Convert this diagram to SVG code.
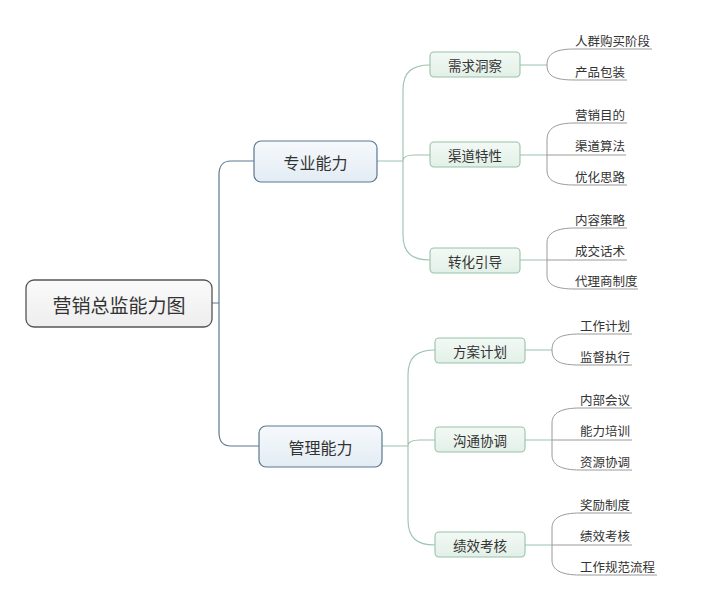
<svg xmlns="http://www.w3.org/2000/svg" width="724" height="592" viewBox="0 0 724 592">
<defs>
<linearGradient id="gRoot" x1="0" y1="0" x2="0" y2="1"><stop offset="0" stop-color="#fafafa"/><stop offset="1" stop-color="#eeeeee"/></linearGradient>
<linearGradient id="gL1" x1="0" y1="0" x2="0" y2="1"><stop offset="0" stop-color="#f6f9fc"/><stop offset="1" stop-color="#e3ecf4"/></linearGradient>
<linearGradient id="gL2" x1="0" y1="0" x2="0" y2="1"><stop offset="0" stop-color="#f3f9f5"/><stop offset="1" stop-color="#e2f0e7"/></linearGradient>
</defs>
<style>
text{font-family:"Noto Sans CJK SC","Noto Sans",sans-serif;fill:#333}
.root rect{fill:url(#gRoot);stroke:#555;stroke-width:1.3}
.l1 rect{fill:url(#gL1);stroke:#5a7890;stroke-width:1.2}
.l2 rect{fill:url(#gL2);stroke:#98c2aa;stroke-width:1.1}
.root text{font-size:19px}
.l1 text{font-size:16px}
.l2 text{font-size:13.5px}
.leaf text{font-size:12.5px}
.c1{fill:none;stroke:#5a7890;stroke-width:1.2}
.c2{fill:none;stroke:#9cc2ae;stroke-width:1.1}
.c3{fill:none;stroke:#9a9a9a;stroke-width:1}
</style>
<rect width="724" height="592" fill="#ffffff"/>
<g id="connectors">
<path class="c1" d="M212,303 H219 M219,303 V175 C219,166 222,161 231,161 H254 M219,303 V432 C219,441 222,446 231,446 H259"/>
<path class="c2" d="M377,161 H403 M403,161 V90 C403,72 412,65 430,65 M403,161 C403,157 406,155 414,155 H430 M403,161 V235 C403,253 412,260 430,260"/>
<path class="c2" d="M382,446 H408 M408,446 V375 C408,357 417,350 435,350 M408,446 C408,442 412,440 420,440 H435 M408,446 V520 C408,538 417,545 435,545"/>
<path class="c2" d="M520,65 H547 M520,155 H547 M520,260 H547 M525,350 H552 M525,440 H552 M525,545 H552"/>
<path class="c3" d="M547,65 C547,53 556,49 575,49 H652 M547,65 C547,77 556,80 575,80 H627"/>
<path class="c3" d="M547,155 V140 C547,128 556,123 575,123 H627 M547,155 H626 M547,155 V170 C547,181 556,185 575,185 H627"/>
<path class="c3" d="M547,260 V243 C547,233 556,228 575,228 H627 M547,260 H627 M547,260 V275 C547,285 556,289 575,289 H638"/>
<path class="c3" d="M552,350 C552,338 561,334 580,334 H632 M552,350 C552,362 561,365 580,365 H632"/>
<path class="c3" d="M552,440 V423 C552,413 561,408 580,408 H632 M552,440 H632 M552,440 V455 C552,465 561,470 580,470 H632"/>
<path class="c3" d="M552,545 V528 C552,518 561,513 580,513 H632 M552,545 H632 M552,545 V560 C552,570 561,575 580,575 H657"/>
</g>
<g id="root" class="root"><rect x="26" y="280" width="186" height="47" rx="8"/><text x="119" y="304" text-anchor="middle" dominant-baseline="central">营销总监能力图</text></g>
<g id="n-zhuanye" class="l1"><rect x="254" y="141" width="123" height="41" rx="7"/><text x="315.5" y="161.5" text-anchor="middle" dominant-baseline="central">专业能力</text></g>
<g id="n-guanli" class="l1"><rect x="259" y="426" width="123" height="41" rx="7"/><text x="320.5" y="446.5" text-anchor="middle" dominant-baseline="central">管理能力</text></g>
<g id="n-xuqiu" class="l2"><rect x="430" y="52" width="90" height="25" rx="4"/><text x="475" y="65" text-anchor="middle" dominant-baseline="central">需求洞察</text></g>
<g id="n-qudao" class="l2"><rect x="430" y="142" width="90" height="25" rx="4"/><text x="475" y="155" text-anchor="middle" dominant-baseline="central">渠道特性</text></g>
<g id="n-zhuanhua" class="l2"><rect x="430" y="248" width="90" height="25" rx="4"/><text x="475" y="261" text-anchor="middle" dominant-baseline="central">转化引导</text></g>
<g id="n-fangan" class="l2"><rect x="435" y="338" width="90" height="25" rx="4"/><text x="480" y="351" text-anchor="middle" dominant-baseline="central">方案计划</text></g>
<g id="n-goutong" class="l2"><rect x="435" y="427" width="90" height="25" rx="4"/><text x="480" y="440" text-anchor="middle" dominant-baseline="central">沟通协调</text></g>
<g id="n-jixiao" class="l2"><rect x="435" y="532" width="90" height="25" rx="4"/><text x="480" y="545" text-anchor="middle" dominant-baseline="central">绩效考核</text></g>
<g id="leaves" class="leaf">
<g id="l-1"><text x="575" y="46">人群购买阶段</text></g>
<g id="l-2"><text x="575" y="77">产品包装</text></g>
<g id="l-3"><text x="575" y="120">营销目的</text></g>
<g id="l-4"><text x="575" y="151">渠道算法</text></g>
<g id="l-5"><text x="575" y="182">优化思路</text></g>
<g id="l-6"><text x="575" y="225">内容策略</text></g>
<g id="l-7"><text x="575" y="256">成交话术</text></g>
<g id="l-8"><text x="575" y="286">代理商制度</text></g>
<g id="l-9"><text x="580" y="331">工作计划</text></g>
<g id="l-10"><text x="580" y="362">监督执行</text></g>
<g id="l-11"><text x="580" y="405">内部会议</text></g>
<g id="l-12"><text x="580" y="436">能力培训</text></g>
<g id="l-13"><text x="580" y="467">资源协调</text></g>
<g id="l-14"><text x="580" y="510">奖励制度</text></g>
<g id="l-15"><text x="580" y="541">绩效考核</text></g>
<g id="l-16"><text x="580" y="572">工作规范流程</text></g>
</g>
</svg>
